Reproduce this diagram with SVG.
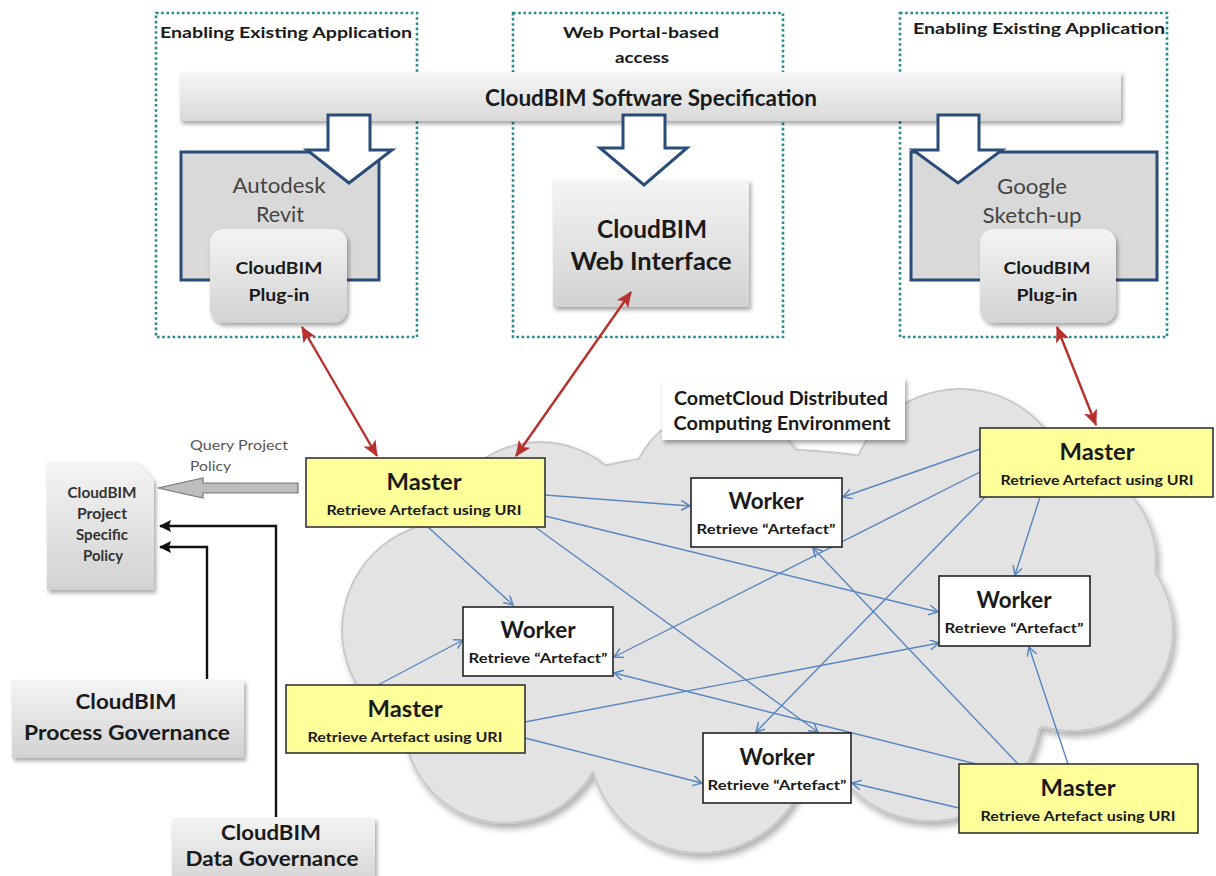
<svg xmlns="http://www.w3.org/2000/svg" width="1216" height="876" viewBox="0 0 1216 876">
<defs>
<style>
text{font-family:Lato,"Open Sans","Liberation Sans",sans-serif;text-anchor:middle;fill:#1a1a1a}
.b{font-weight:bold}
.panel{fill:none;stroke:#2a8c8c;stroke-width:2.6;stroke-dasharray:2.6 2.6}
.blk{fill:#fff;stroke:#2b4c78;stroke-width:3;stroke-linejoin:miter}
.app{fill:#d9d9d9;stroke:#2b4c78;stroke-width:3}
.master{fill:#ffff99;stroke:#333;stroke-width:1.6}
.worker{fill:#fff;stroke:#222;stroke-width:1.6}
.blue{fill:none;stroke:#5a86c0;stroke-width:1.4;marker-end:url(#ab)}
.red{fill:none;stroke:#b8302e;stroke-width:2.4;marker-start:url(#ar);marker-end:url(#ar)}
.elb{fill:none;stroke:#111;stroke-width:2.4;marker-end:url(#ak)}
.mt{font-size:22px;font-weight:bold}
.ms{font-size:14px;font-weight:bold}
.g{fill:#444}
</style>
<linearGradient id="gg" x1="0" y1="0" x2="0" y2="1"><stop offset="0" stop-color="#f4f4f4"/><stop offset="1" stop-color="#d2d2d2"/></linearGradient>
<linearGradient id="gb" x1="0" y1="0" x2="0" y2="1"><stop offset="0" stop-color="#f6f6f6"/><stop offset="1" stop-color="#d9d9d9"/></linearGradient>
<filter id="sh" x="-10%" y="-10%" width="125%" height="130%"><feDropShadow dx="2" dy="3" stdDeviation="2" flood-color="#000" flood-opacity="0.35"/></filter>
<filter id="csh" x="-5%" y="-5%" width="112%" height="115%"><feDropShadow dx="3" dy="5" stdDeviation="3" flood-color="#000" flood-opacity="0.3"/></filter>
<marker id="ab" markerUnits="userSpaceOnUse" markerWidth="14" markerHeight="14" refX="9" refY="5" orient="auto"><path d="M0,0 L9,5 L0,10" fill="none" stroke="#5a86c0" stroke-width="1.5"/></marker>
<marker id="ar" markerUnits="userSpaceOnUse" markerWidth="18" markerHeight="16" refX="15" refY="7" orient="auto-start-reverse"><path d="M0,0 L16,7 L0,14 L4,7 z" fill="#b8302e"/></marker>
<marker id="ak" markerUnits="userSpaceOnUse" markerWidth="14" markerHeight="12" refX="11" refY="6" orient="auto"><path d="M0,0 L12,6 L0,12 L2,6 z" fill="#111"/></marker>
</defs>
<rect width="1216" height="876" fill="#fff"/>

<!-- panels -->
<g id="panel-revit"><rect class="panel" x="156" y="13" width="261" height="324"/><text class="b" x="286" y="38" font-size="15.5" textLength="252" lengthAdjust="spacingAndGlyphs">Enabling Existing Application</text></g>
<g id="panel-web"><rect class="panel" x="513" y="13" width="270" height="324"/><text class="b" x="641" y="38" font-size="15.5" textLength="156" lengthAdjust="spacingAndGlyphs">Web Portal-based</text><text class="b" x="642" y="63" font-size="15.5" textLength="54" lengthAdjust="spacingAndGlyphs">access</text></g>
<g id="panel-sketchup"><rect class="panel" x="900" y="13" width="267" height="324"/><text class="b" x="1039" y="34" font-size="15.5" textLength="252" lengthAdjust="spacingAndGlyphs">Enabling Existing Application</text></g>

<!-- spec bar -->
<g id="spec"><rect x="180" y="72" width="941" height="49" fill="url(#gb)" filter="url(#sh)"/><text class="b" x="651" y="106" font-size="22" textLength="332" lengthAdjust="spacingAndGlyphs">CloudBIM Software Specification</text></g>

<!-- app boxes -->
<g id="revit"><rect class="app" x="181" y="152" width="198" height="128"/><text class="g" x="279" y="193" font-size="22" textLength="93" lengthAdjust="spacingAndGlyphs">Autodesk</text><text class="g" x="280" y="222" font-size="22" textLength="48" lengthAdjust="spacingAndGlyphs">Revit</text></g>
<g id="web-interface"><rect x="553" y="180" width="196" height="127" fill="url(#gg)" filter="url(#sh)"/><text class="b" x="652" y="238" font-size="24" textLength="110" lengthAdjust="spacingAndGlyphs">CloudBIM</text><text class="b" x="651" y="270" font-size="24" textLength="161" lengthAdjust="spacingAndGlyphs">Web Interface</text></g>
<g id="sketchup"><rect class="app" x="911" y="152" width="246" height="128"/><text class="g" x="1032" y="194" font-size="22" textLength="70" lengthAdjust="spacingAndGlyphs">Google</text><text class="g" x="1032" y="223" font-size="22" textLength="99" lengthAdjust="spacingAndGlyphs">Sketch-up</text></g>

<!-- block arrows -->
<g id="blockarrows">
<polygon class="blk" points="328,115 370,115 370,150 392,150 349,183 307,150 328,150"/>
<polygon class="blk" points="623,115 665,115 665,148 687,148 644,185 600,148 623,148"/>
<polygon class="blk" points="938,115 979,115 979,150 1002,150 958,183 913,150 938,150"/>
</g>

<!-- plugins -->
<g id="plugin-revit"><rect x="210" y="229" width="137" height="94" rx="14" fill="url(#gg)" filter="url(#sh)"/><text class="b" x="279" y="274" font-size="17" textLength="87" lengthAdjust="spacingAndGlyphs">CloudBIM</text><text class="b" x="279" y="301" font-size="17" textLength="61" lengthAdjust="spacingAndGlyphs">Plug-in</text></g>
<g id="plugin-sketchup"><rect x="980" y="229" width="136" height="94" rx="14" fill="url(#gg)" filter="url(#sh)"/><text class="b" x="1047" y="274" font-size="17" textLength="87" lengthAdjust="spacingAndGlyphs">CloudBIM</text><text class="b" x="1047" y="301" font-size="17" textLength="61" lengthAdjust="spacingAndGlyphs">Plug-in</text></g>

<!-- cloud -->
<g id="cloud">
<g filter="url(#csh)" fill="#c9c9c9">
<ellipse cx="760" cy="620" rx="362" ry="172"/>
<circle cx="450" cy="630" r="109"/><circle cx="540" cy="545" r="104"/><circle cx="720" cy="500" r="92"/><circle cx="960" cy="500" r="112"/><circle cx="1060" cy="560" r="97"/><circle cx="1072" cy="630" r="102"/><circle cx="930" cy="710" r="112"/><circle cx="700" cy="742" r="112"/><circle cx="505" cy="722" r="102"/>
</g>
<g fill="#e3e3e3">
<ellipse cx="760" cy="620" rx="360" ry="170"/>
<circle cx="450" cy="630" r="107"/><circle cx="540" cy="545" r="102"/><circle cx="720" cy="500" r="90"/><circle cx="960" cy="500" r="110"/><circle cx="1060" cy="560" r="95"/><circle cx="1072" cy="630" r="100"/><circle cx="930" cy="710" r="110"/><circle cx="700" cy="742" r="110"/><circle cx="505" cy="722" r="100"/>
</g>
</g>

<g id="cometcloud-label"><rect x="662" y="378" width="243" height="62" fill="#fff" filter="url(#sh)"/><text class="b" x="781" y="405" font-size="18" textLength="214" lengthAdjust="spacingAndGlyphs">CometCloud Distributed</text><text class="b" x="782" y="430" font-size="18" textLength="217" lengthAdjust="spacingAndGlyphs">Computing Environment</text></g>

<!-- left side -->
<g id="policy"><path d="M47,462 L136,462 L154,480 L154,590 L47,590 z" fill="url(#gg)" filter="url(#sh)"/><text class="b" x="102" y="498" font-size="15" style="fill:#333" textLength="69" lengthAdjust="spacingAndGlyphs">CloudBIM</text><text class="b" x="102" y="519" font-size="15" style="fill:#333" textLength="50" lengthAdjust="spacingAndGlyphs">Project</text><text class="b" x="102" y="540" font-size="15" style="fill:#333" textLength="52" lengthAdjust="spacingAndGlyphs">Specific</text><text class="b" x="103" y="561" font-size="15" style="fill:#333" textLength="40" lengthAdjust="spacingAndGlyphs">Policy</text></g>
<g id="process-gov"><rect x="12" y="680" width="232" height="78" fill="url(#gg)" filter="url(#sh)"/><text class="b" x="126" y="709" font-size="21" textLength="101" lengthAdjust="spacingAndGlyphs">CloudBIM</text><text class="b" x="127" y="740" font-size="21" textLength="206" lengthAdjust="spacingAndGlyphs">Process Governance</text></g>
<g id="data-gov"><rect x="172" y="818" width="203" height="70" fill="url(#gg)" filter="url(#sh)"/><text class="b" x="271" y="840" font-size="21" textLength="100" lengthAdjust="spacingAndGlyphs">CloudBIM</text><text class="b" x="272" y="866" font-size="21" textLength="173" lengthAdjust="spacingAndGlyphs">Data Governance</text></g>

<!-- connectors -->
<g id="connectors">
<polygon points="298,483 203,483 203,478 158,488 203,498 203,493 298,493" fill="#bdbdbd" stroke="#777" stroke-width="1.2"/>
<text x="190" y="450" font-size="13" style="fill:#555;text-anchor:start" textLength="98" lengthAdjust="spacingAndGlyphs">Query Project</text>
<text x="190" y="471" font-size="13" style="fill:#555;text-anchor:start" textLength="41" lengthAdjust="spacingAndGlyphs">Policy</text>
<polyline class="elb" points="276,817 276,526 160,526"/>
<polyline class="elb" points="207,679 207,547 160,547"/>
<line class="red" x1="302" y1="327" x2="377" y2="456"/>
<line class="red" x1="631" y1="292" x2="516" y2="456"/>
<line class="red" x1="1057" y1="327" x2="1096" y2="425"/>
<line class="blue" x1="545" y1="495" x2="690" y2="506"/>
<line class="blue" x1="545" y1="516" x2="938" y2="612"/>
<line class="blue" x1="428" y1="527" x2="513" y2="605"/>
<line class="blue" x1="535" y1="527" x2="818" y2="732"/>
<line class="blue" x1="980" y1="449" x2="843" y2="497"/>
<line class="blue" x1="980" y1="472" x2="614" y2="657"/>
<line class="blue" x1="985" y1="497" x2="756" y2="732"/>
<line class="blue" x1="1040" y1="497" x2="1015" y2="575"/>
<line class="blue" x1="378" y1="685" x2="463" y2="640"/>
<line class="blue" x1="525" y1="722" x2="939" y2="643"/>
<line class="blue" x1="525" y1="738" x2="702" y2="783"/>
<line class="blue" x1="976" y1="764" x2="614" y2="673"/>
<line class="blue" x1="1018" y1="764" x2="813" y2="548"/>
<line class="blue" x1="1068" y1="764" x2="1029" y2="647"/>
<line class="blue" x1="959" y1="808" x2="852" y2="783"/>
</g>

<!-- masters and workers -->
<g id="master1"><rect class="master" x="306" y="458" width="239" height="69"/><text class="mt" x="424" y="490" textLength="75" lengthAdjust="spacingAndGlyphs">Master</text><text class="ms" x="424" y="515" textLength="195" lengthAdjust="spacingAndGlyphs">Retrieve Artefact using URI</text></g>
<g id="master2"><rect class="master" x="980" y="428" width="233" height="69"/><text class="mt" x="1097" y="460" textLength="75" lengthAdjust="spacingAndGlyphs">Master</text><text class="ms" x="1097" y="485" textLength="193" lengthAdjust="spacingAndGlyphs">Retrieve Artefact using URI</text></g>
<g id="master3"><rect class="master" x="286" y="685" width="239" height="68"/><text class="mt" x="405" y="717" textLength="75" lengthAdjust="spacingAndGlyphs">Master</text><text class="ms" x="405" y="742" textLength="195" lengthAdjust="spacingAndGlyphs">Retrieve Artefact using URI</text></g>
<g id="master4"><rect class="master" x="959" y="764" width="239" height="69"/><text class="mt" x="1078" y="796" textLength="75" lengthAdjust="spacingAndGlyphs">Master</text><text class="ms" x="1078" y="821" textLength="195" lengthAdjust="spacingAndGlyphs">Retrieve Artefact using URI</text></g>
<g id="worker1"><rect class="worker" x="691" y="478" width="151" height="69"/><text class="mt" x="766" y="509" textLength="75" lengthAdjust="spacingAndGlyphs">Worker</text><text class="ms" x="766" y="534" textLength="139" lengthAdjust="spacingAndGlyphs">Retrieve “Artefact”</text></g>
<g id="worker2"><rect class="worker" x="939" y="576" width="151" height="70"/><text class="mt" x="1014" y="608" textLength="75" lengthAdjust="spacingAndGlyphs">Worker</text><text class="ms" x="1014" y="633" textLength="139" lengthAdjust="spacingAndGlyphs">Retrieve “Artefact”</text></g>
<g id="worker3"><rect class="worker" x="463" y="607" width="150" height="69"/><text class="mt" x="538" y="638" textLength="75" lengthAdjust="spacingAndGlyphs">Worker</text><text class="ms" x="538" y="663" textLength="139" lengthAdjust="spacingAndGlyphs">Retrieve “Artefact”</text></g>
<g id="worker4"><rect class="worker" x="703" y="733" width="148" height="70"/><text class="mt" x="777" y="765" textLength="75" lengthAdjust="spacingAndGlyphs">Worker</text><text class="ms" x="777" y="790" textLength="139" lengthAdjust="spacingAndGlyphs">Retrieve “Artefact”</text></g>
</svg>
